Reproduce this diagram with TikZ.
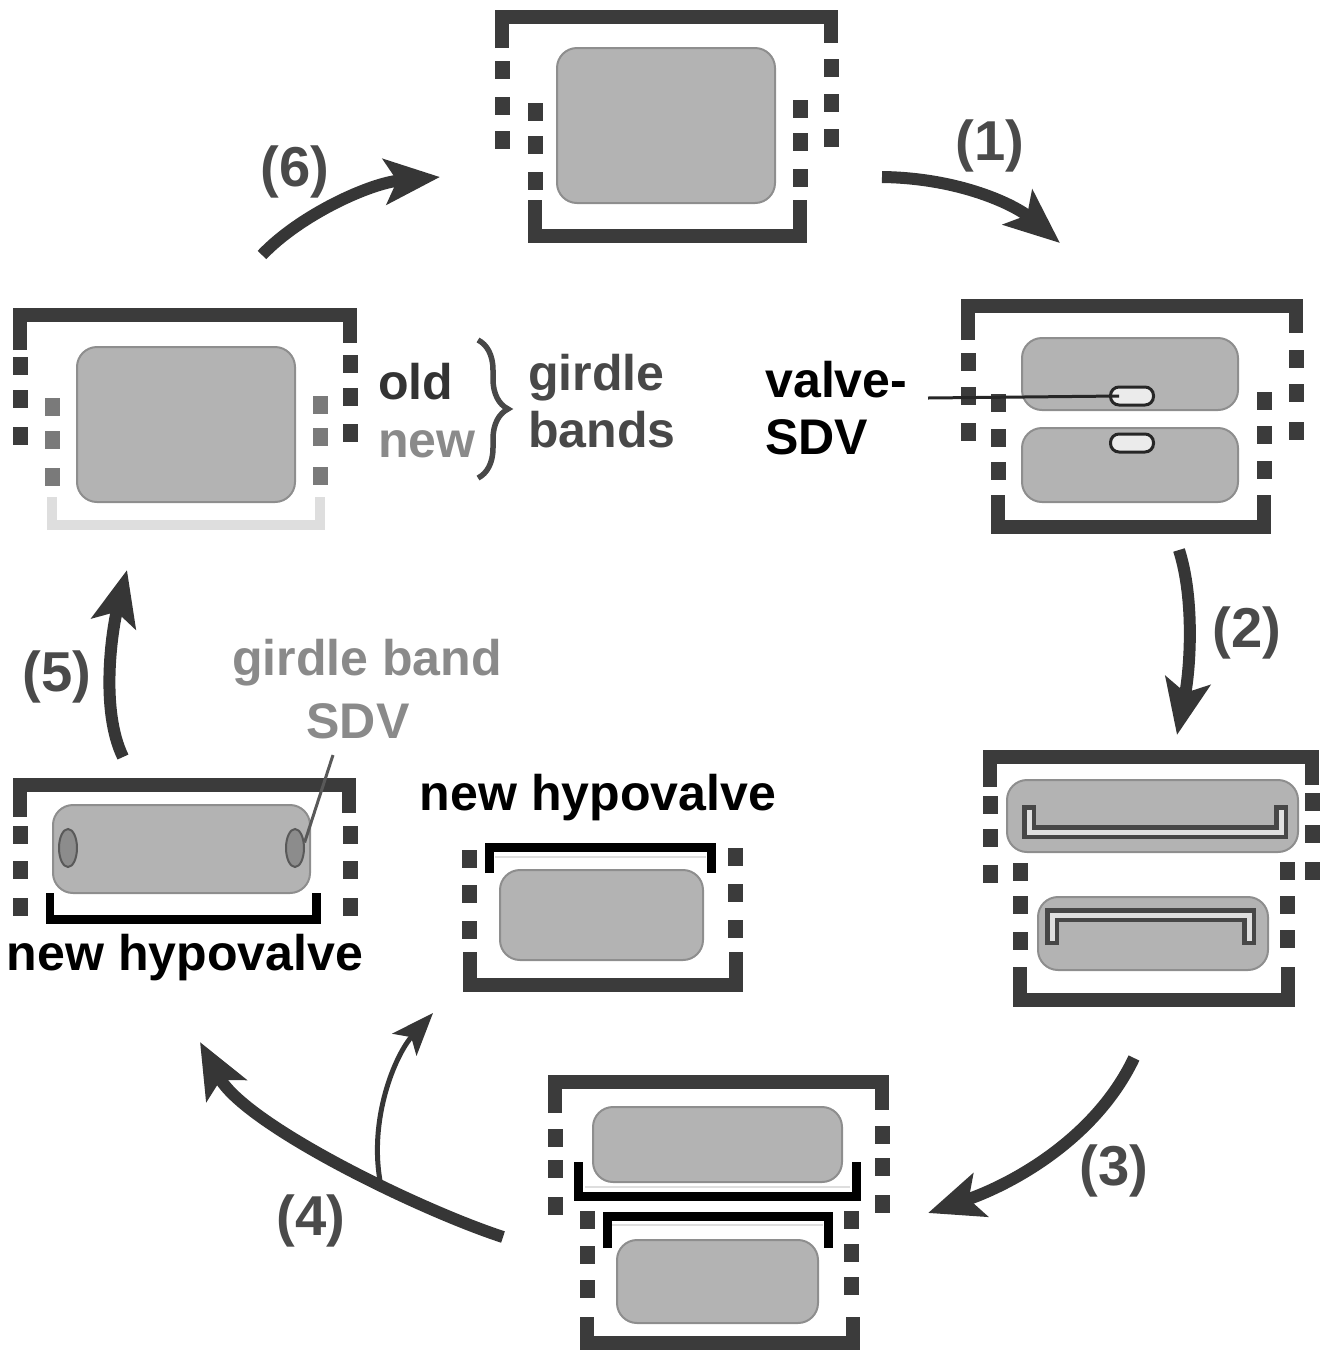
\documentclass[tikz,border=0pt]{standalone}
\usepackage{fontspec}
\setmainfont{Liberation Sans}
\usepackage{xcolor}
\usepackage{tikz}
\usetikzlibrary{calc,arrows.meta,shapes.geometric,decorations.pathreplacing}
\definecolor{BandGray}{HTML}{3B3B3B}
\definecolor{NewGray}{HTML}{7A7A7A}
\definecolor{Ghost}{HTML}{DEDEDE}
\definecolor{CellGray}{HTML}{B3B3B3}
\definecolor{CellLine}{HTML}{8E8E8E}
\definecolor{ArrowGray}{HTML}{363636}
\definecolor{LabelGray}{HTML}{8A8A8A}
\definecolor{NumGray}{HTML}{4A4A4A}
\definecolor{BraceGray}{HTML}{484848}

% one column of girdle band segments: style, x, list of y
\newcommand{\bandcol}[3]{%
  \foreach \gy in {#3} {\fill[#1] (#2-7.5,\gy-9) rectangle (#2+7.5,\gy+9);}}
% hypovalve still inside the cell: dark rim, light core
\newcommand{\newvalveband}[1]{%
  \draw[valverim] #1; \draw[valvecore] #1;}

\begin{document}
\begin{tikzpicture}[x=0.02cm, y=-0.02cm, line join=miter,
       every node/.style={inner sep=0pt},
       band/.style={draw=BandGray, line width=0.28cm},
       faintband/.style={draw=Ghost, line width=0.2cm},
       oldgb/.style={fill=BandGray},
       newgb/.style={fill=NewGray},
       cell/.style={draw=CellLine, fill=CellGray, line width=0.04cm, rounded corners=0.4cm},
       hypovalve/.style={draw=black, line width=0.18cm},
       ghostline/.style={draw=Ghost, line width=0.05cm},
       valverim/.style={draw=black!72, line width=0.28cm},
       valvecore/.style={draw=black!12, line width=0.1cm, shorten <=0.09cm, shorten >=0.09cm},
       sdv/.style={draw=black!85, fill=black!8, line width=0.06cm, rounded corners=0.17cm,
                   minimum width=0.86cm, minimum height=0.36cm},
       gbsdv/.style={ellipse, draw=black!65, fill=black!45, line width=0.04cm,
                     minimum width=0.36cm, minimum height=0.76cm},
       sdvleader/.style={draw=black!85, line width=0.06cm},
       gbleader/.style={draw=black!65, line width=0.06cm},
       phasearrow/.style={draw=ArrowGray, line width=0.24cm,
                          -{Stealth[length=1.1cm,width=0.9cm,inset=0.24cm]}},
       brancharrow/.style={draw=ArrowGray, line width=0.1cm,
                           -{Stealth[length=0.85cm,width=0.65cm,inset=0.2cm]}},
       bandbrace/.style={decorate, decoration={brace, amplitude=0.6cm, aspect=0.5},
                         draw=BraceGray, line width=0.11cm},
       lab/.style={font=\bfseries\fontsize{28.5}{32}\selectfont},
       num/.style={font=\bfseries\fontsize{32}{36}\selectfont, text=NumGray}]
	\useasboundingbox (0,0) rectangle (1320,1353);

	%% Interphase cell (top)
	\draw[band] (502,48) |- (831,17) -- (831,43);
	\bandcol{oldgb}{502}{70,106,140}
	\bandcol{oldgb}{831}{68,103,138}
	\bandcol{oldgb}{535}{112,145,181}
	\bandcol{oldgb}{800}{109,142,178}
	\draw[band] (535,200) |- (800,236) -- (800,200);
	\draw[cell] (557,48) rectangle (775,203);

	%% Cell division, two valve SDVs
	\draw[band] (968,340) |- (1296,306) -- (1296,333);
	\bandcol{oldgb}{968}{362,396,432}
	\bandcol{oldgb}{1296}{359,393,431}
	\bandcol{oldgb}{998}{403,438,471}
	\bandcol{oldgb}{1264}{401,435,470}
	\draw[band] (998,495) |- (1264,527) -- (1264,495);
	\draw[cell] (1022,338) rectangle (1238,410);
	\draw[cell] (1022,428) rectangle (1238,502);
	\node[sdv] (sdvup) at (1132,396) {};
	\node[sdv] (sdvdown) at (1132,443) {};
	\node[lab, anchor=base west] (valvelab) at (765,397) {valve-};
	\node[lab, anchor=base west] (sdvlab) at (765,454) {SDV};
	\coordinate (valvetail) at (928,398);
	\draw[sdvleader] (valvetail) -- ($(sdvup.west)+(10,0)$);

	%% Valve formation inside the daughter cells
	\draw[band] (990,787) |- (1312,757) -- (1312,785);
	\bandcol{oldgb}{990}{805,838,874}
	\bandcol{oldgb}{1312}{802,834,871}
	\bandcol{oldgb}{1020}{872,905,941}
	\bandcol{oldgb}{1287}{871,905,939}
	\draw[band] (1020,967) |- (1288,1000) -- (1288,967);
	\draw[cell] (1007,780) rectangle (1298,852);
	\draw[cell] (1038,897) rectangle (1268,970);
	\newvalveband{(1029,805) |- (1281,832) -- (1281,805)}
	\newvalveband{(1052,945) |- (1249,915) -- (1249,945)}

	%% Exocytosis of the new hypovalves
	\draw[band] (555,1113) |- (882,1082) -- (882,1110);
	\bandcol{oldgb}{555}{1138,1169,1206}
	\bandcol{oldgb}{882}{1135,1167,1204}
	\bandcol{oldgb}{587}{1220,1255,1289}
	\bandcol{oldgb}{851}{1220,1253,1286}
	\draw[band] (587,1317) |- (853,1343) -- (853,1317);
	\draw[cell] (593,1107) rectangle (842,1182);
	\draw[cell] (617,1240) rectangle (818,1323);
	\draw[ghostline] (585,1187) -- (850,1187);
	\draw[hypovalve] (578,1162) |- (856,1196) -- (856,1162);
	\draw[ghostline] (612,1225) -- (823,1225);
	\draw[hypovalve] (607,1248) |- (828,1216) -- (828,1248);

	%% Daughter cell with the new hypovalve on top
	\bandcol{oldgb}{469}{859,894,930}
	\bandcol{oldgb}{735}{857,893,929}
	\draw[band] (470,952) |- (736,985) -- (736,952);
	\draw[cell] (500,870) rectangle (703,960);
	\draw[ghostline] (495,857) -- (706,857);
	\draw[hypovalve] (489,873) |- (711,847) -- (711,873);
	\node[lab, anchor=base] (hypomid) at (598,810) {new hypovalve};

	%% Daughter cell with the new hypovalve below
	\draw[band] (20,817) |- (349,785) -- (349,813);
	\bandcol{oldgb}{20}{835,870,907}
	\bandcol{oldgb}{350}{835,870,907}
	\draw[cell] (53,805) rectangle (310,893);
	\draw[hypovalve] (50,893) |- (316,919) -- (316,893);
	\node[gbsdv] (gbsdvleft) at (68,848) {};
	\node[gbsdv] (gbsdvright) at (295,848) {};
	\node[lab, anchor=base] (hypoleft) at (185,970) {new hypovalve};
	\node[lab, text=LabelGray, anchor=base] (gblab) at (367,675) {girdle band};
	\node[lab, text=LabelGray, anchor=base] (gbsdvlab) at (358,738) {SDV};
	\coordinate (gbtail) at (333,755);
	\draw[gbleader] (gbsdvright.30) -- (gbtail);

	%% Girdle band formation
	\draw[band] (20,350) |- (350,315) -- (350,343);
	\bandcol{oldgb}{20}{366,399,436}
	\bandcol{oldgb}{350}{364,397,433}
	\bandcol{newgb}{52}{407,440,477}
	\bandcol{newgb}{320}{405,437,476}
	\draw[faintband] (52,497) |- (320,525) -- (320,497);
	\draw[cell] (77,347) rectangle (295,502);
	\node[lab, text=black!80, anchor=base west] (oldlab) at (378,399) {old};
	\node[lab, text=LabelGray, anchor=base west] (newlab) at (378,457) {new};
	\draw[bandbrace] (478,340) -- (478,478);
	\node[lab, text=BraceGray, anchor=base west] (girdlelab) at (528,390) {girdle};
	\node[lab, text=BraceGray, anchor=base west] (bandslab) at (528,447) {bands};

	%% Cycle arrows
	\coordinate (a1s) at (882,177);  \coordinate (a1e) at (1060,243);
	\coordinate (a2s) at (1179,550); \coordinate (a2e) at (1177,735);
	\coordinate (a3s) at (1134,1058); \coordinate (a3e) at (928,1213);
	\coordinate (a4s) at (503,1237); \coordinate (a4e) at (200,1042);
	\coordinate (a4b) at (433,1013);
	\coordinate (a5s) at (123,757);  \coordinate (a5e) at (127,570);
	\coordinate (a6s) at (262,255);  \coordinate (a6e) at (440,177);

	\draw[phasearrow] (a1s) .. controls (960,178) and (1015,205) .. (a1e);
	\draw[phasearrow] (a2s) .. controls (1195,600) and (1190,670) .. (a2e);
	\draw[phasearrow] (a3s) .. controls (1095,1140) and (1010,1185) .. (a3e);
	\draw[phasearrow] (a4s) .. controls (420,1210) and (245,1125) .. coordinate[pos=0.38] (fork) (a4e);
	\draw[brancharrow] (fork) .. controls (368,1120) and (395,1055) .. (a4b);
	\draw[phasearrow] (a5s) .. controls (100,710) and (112,630) .. (a5e);
	\draw[phasearrow] (a6s) .. controls (300,215) and (370,183) .. (a6e);

	\node[num] (n1) at (990,146) {(1)};
	\node[num] (n2) at (1247,633) {(2)};
	\node[num] (n3) at (1114,1171) {(3)};
	\node[num] (n4) at (311,1221) {(4)};
	\node[num] (n5) at (57,677) {(5)};
	\node[num] (n6) at (295,172) {(6)};
\end{tikzpicture}
\end{document}
